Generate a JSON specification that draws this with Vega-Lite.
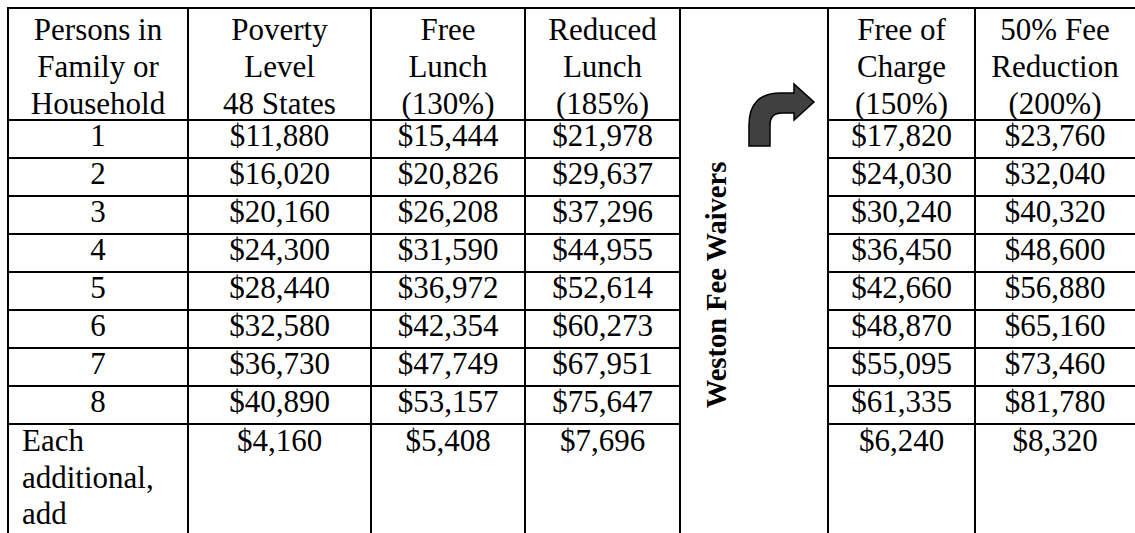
{
  "$schema": "https://vega.github.io/schema/vega-lite/v6.json",
  "width": 1135,
  "height": 533,
  "padding": 0,
  "autosize": "none",
  "background": "white",
  "config": {"view": {"stroke": null}},
  "datasets": {
    "hrules": [
      {"y": -0.5, "x": -0.5, "x2": 6.5},
      {"y": 2.5, "x": -0.5, "x2": 3.5}, {"y": 2.5, "x": 4.5, "x2": 6.5},
      {"y": 3.5, "x": -0.5, "x2": 3.5}, {"y": 3.5, "x": 4.5, "x2": 6.5},
      {"y": 4.5, "x": -0.5, "x2": 3.5}, {"y": 4.5, "x": 4.5, "x2": 6.5},
      {"y": 5.5, "x": -0.5, "x2": 3.5}, {"y": 5.5, "x": 4.5, "x2": 6.5},
      {"y": 6.5, "x": -0.5, "x2": 3.5}, {"y": 6.5, "x": 4.5, "x2": 6.5},
      {"y": 7.5, "x": -0.5, "x2": 3.5}, {"y": 7.5, "x": 4.5, "x2": 6.5},
      {"y": 8.5, "x": -0.5, "x2": 3.5}, {"y": 8.5, "x": 4.5, "x2": 6.5},
      {"y": 9.5, "x": -0.5, "x2": 3.5}, {"y": 9.5, "x": 4.5, "x2": 6.5},
      {"y": 10.5, "x": -0.5, "x2": 3.5}, {"y": 10.5, "x": 4.5, "x2": 6.5}
    ],
    "vrules": [
      {"x": -0.5, "y": -0.5, "y2": 13.5},
      {"x": 0.5, "y": -0.5, "y2": 13.5},
      {"x": 1.5, "y": -0.5, "y2": 13.5},
      {"x": 2.5, "y": -0.5, "y2": 13.5},
      {"x": 3.5, "y": -0.5, "y2": 13.5},
      {"x": 4.5, "y": -0.5, "y2": 13.5},
      {"x": 5.5, "y": -0.5, "y2": 13.5}
    ],
    "header": [
      {"col": 0, "line": 0, "text": "Persons in"}, {"col": 0, "line": 1, "text": "Family or"}, {"col": 0, "line": 2, "text": "Household"},
      {"col": 1, "line": 0, "text": "Poverty"}, {"col": 1, "line": 1, "text": "Level"}, {"col": 1, "line": 2, "text": "48 States"},
      {"col": 2, "line": 0, "text": "Free"}, {"col": 2, "line": 1, "text": "Lunch"}, {"col": 2, "line": 2, "text": "(130%)"},
      {"col": 3, "line": 0, "text": "Reduced"}, {"col": 3, "line": 1, "text": "Lunch"}, {"col": 3, "line": 2, "text": "(185%)"},
      {"col": 5, "line": 0, "text": "Free of"}, {"col": 5, "line": 1, "text": "Charge"}, {"col": 5, "line": 2, "text": "(150%)"},
      {"col": 6, "line": 0, "text": "50% Fee"}, {"col": 6, "line": 1, "text": "Reduction"}, {"col": 6, "line": 2, "text": "(200%)"}
    ],
    "body": [
      {"col": 0, "line": 3, "text": "1"}, {"col": 1, "line": 3, "text": "$11,880"}, {"col": 2, "line": 3, "text": "$15,444"}, {"col": 3, "line": 3, "text": "$21,978"}, {"col": 5, "line": 3, "text": "$17,820"}, {"col": 6, "line": 3, "text": "$23,760"},
      {"col": 0, "line": 4, "text": "2"}, {"col": 1, "line": 4, "text": "$16,020"}, {"col": 2, "line": 4, "text": "$20,826"}, {"col": 3, "line": 4, "text": "$29,637"}, {"col": 5, "line": 4, "text": "$24,030"}, {"col": 6, "line": 4, "text": "$32,040"},
      {"col": 0, "line": 5, "text": "3"}, {"col": 1, "line": 5, "text": "$20,160"}, {"col": 2, "line": 5, "text": "$26,208"}, {"col": 3, "line": 5, "text": "$37,296"}, {"col": 5, "line": 5, "text": "$30,240"}, {"col": 6, "line": 5, "text": "$40,320"},
      {"col": 0, "line": 6, "text": "4"}, {"col": 1, "line": 6, "text": "$24,300"}, {"col": 2, "line": 6, "text": "$31,590"}, {"col": 3, "line": 6, "text": "$44,955"}, {"col": 5, "line": 6, "text": "$36,450"}, {"col": 6, "line": 6, "text": "$48,600"},
      {"col": 0, "line": 7, "text": "5"}, {"col": 1, "line": 7, "text": "$28,440"}, {"col": 2, "line": 7, "text": "$36,972"}, {"col": 3, "line": 7, "text": "$52,614"}, {"col": 5, "line": 7, "text": "$42,660"}, {"col": 6, "line": 7, "text": "$56,880"},
      {"col": 0, "line": 8, "text": "6"}, {"col": 1, "line": 8, "text": "$32,580"}, {"col": 2, "line": 8, "text": "$42,354"}, {"col": 3, "line": 8, "text": "$60,273"}, {"col": 5, "line": 8, "text": "$48,870"}, {"col": 6, "line": 8, "text": "$65,160"},
      {"col": 0, "line": 9, "text": "7"}, {"col": 1, "line": 9, "text": "$36,730"}, {"col": 2, "line": 9, "text": "$47,749"}, {"col": 3, "line": 9, "text": "$67,951"}, {"col": 5, "line": 9, "text": "$55,095"}, {"col": 6, "line": 9, "text": "$73,460"},
      {"col": 0, "line": 10, "text": "8"}, {"col": 1, "line": 10, "text": "$40,890"}, {"col": 2, "line": 10, "text": "$53,157"}, {"col": 3, "line": 10, "text": "$75,647"}, {"col": 5, "line": 10, "text": "$61,335"}, {"col": 6, "line": 10, "text": "$81,780"}
    ],
    "footvalues": [
      {"col": 1, "line": 11, "text": "$4,160"}, {"col": 2, "line": 11, "text": "$5,408"}, {"col": 3, "line": 11, "text": "$7,696"}, {"col": 5, "line": 11, "text": "$6,240"}, {"col": 6, "line": 11, "text": "$8,320"}
    ],
    "footlabel": [
      {"col": 0, "line": 11, "text": "Each"}, {"col": 0, "line": 12, "text": "additional,"}, {"col": 0, "line": 13, "text": "add"}
    ],
    "arrow": [{"col": 4, "line": 2}],
    "side": [{"col": 4, "line": 7, "text": "Weston Fee Waivers"}]
  },
  "layer": [
    {
      "data": {"name": "hrules"},
      "mark": {"type": "rule", "color": "black", "strokeWidth": 2, "strokeCap": "square"},
      "encoding": {
        "x": {"field": "x", "type": "quantitative", "axis": null, "scale": {"domain": [-0.5, 0.5, 1.5, 2.5, 3.5, 4.5, 5.5, 6.5], "range": [8, 188, 371, 525, 680, 828, 975, 1135], "zero": false, "nice": false}},
        "x2": {"field": "x2"},
        "y": {"field": "y", "type": "quantitative", "axis": null, "scale": {"domain": [-0.5, 2.5, 10.5, 13.5], "range": [8, 120, 424, 533], "zero": false, "nice": false}}
      }
    },
    {
      "data": {"name": "vrules"},
      "mark": {"type": "rule", "color": "black", "strokeWidth": 2, "strokeCap": "square"},
      "encoding": {
        "x": {"field": "x", "type": "quantitative", "axis": null},
        "y": {"field": "y", "type": "quantitative", "axis": null},
        "y2": {"field": "y2"}
      }
    },
    {
      "data": {"name": "header"},
      "mark": {"type": "text", "font": "Liberation Serif", "fontSize": 31, "color": "black", "align": "center", "baseline": "middle", "dy": 4},
      "encoding": {
        "x": {"field": "col", "type": "quantitative", "axis": null},
        "y": {"field": "line", "type": "quantitative", "axis": null},
        "text": {"field": "text"}
      }
    },
    {
      "data": {"name": "body"},
      "mark": {"type": "text", "font": "Liberation Serif", "fontSize": 31, "color": "black", "align": "center", "baseline": "middle", "dy": -2},
      "encoding": {
        "x": {"field": "col", "type": "quantitative", "axis": null},
        "y": {"field": "line", "type": "quantitative", "axis": null},
        "text": {"field": "text"}
      }
    },
    {
      "data": {"name": "footvalues"},
      "mark": {"type": "text", "font": "Liberation Serif", "fontSize": 31, "color": "black", "align": "center", "baseline": "middle", "dy": 0},
      "encoding": {
        "x": {"field": "col", "type": "quantitative", "axis": null},
        "y": {"field": "line", "type": "quantitative", "axis": null},
        "text": {"field": "text"}
      }
    },
    {
      "data": {"name": "footlabel"},
      "mark": {"type": "text", "font": "Liberation Serif", "fontSize": 31, "color": "black", "align": "left", "baseline": "middle", "dx": -76, "dy": 0},
      "encoding": {
        "x": {"field": "col", "type": "quantitative", "axis": null},
        "y": {"field": "line", "type": "quantitative", "axis": null},
        "text": {"field": "text"}
      }
    },
    {
      "data": {"name": "arrow"},
      "mark": {"type": "point", "shape": "M-0.152,1.354L-0.152,0.717Q-0.152,-0.253,0.818,-0.253L1.212,-0.253L1.212,-0.525L1.818,0.020L1.212,0.566L1.212,0.354L0.848,0.354Q0.485,0.354,0.485,0.717L0.485,1.354Z", "size": 4356, "filled": true, "fill": "#404040", "stroke": "black", "strokeWidth": 1.5, "opacity": 1, "fillOpacity": 1, "strokeOpacity": 1},
      "encoding": {
        "x": {"field": "col", "type": "quantitative", "axis": null},
        "y": {"field": "line", "type": "quantitative", "axis": null}
      }
    },
    {
      "data": {"name": "side"},
      "mark": {"type": "text", "font": "Liberation Serif", "fontSize": 28.5, "fontWeight": "bold", "color": "black", "align": "center", "baseline": "middle", "angle": 270, "dx": 6, "dy": -37},
      "encoding": {
        "x": {"field": "col", "type": "quantitative", "axis": null},
        "y": {"field": "line", "type": "quantitative", "axis": null},
        "text": {"field": "text"}
      }
    }
  ]
}
